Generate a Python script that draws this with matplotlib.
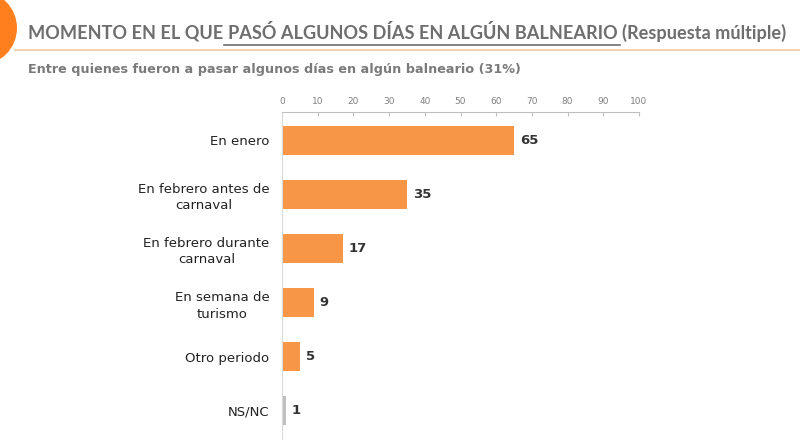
import matplotlib
matplotlib.use("Agg")
import matplotlib.pyplot as plt
from matplotlib.patches import Ellipse
from matplotlib.lines import Line2D

categories = [
    "En enero",
    "En febrero antes de\ncarnaval",
    "En febrero durante\ncarnaval",
    "En semana de\nturismo",
    "Otro periodo",
    "NS/NC",
]
values = [65, 35, 17, 9, 5, 1]
bar_colors = ["#F79646", "#F79646", "#F79646", "#F79646", "#F79646", "#BFBFBF"]
ticks = list(range(0, 101, 10))

title_parts = ["MOMENTO EN EL QUE ", "PASÓ ALGUNOS DÍAS EN ALGÚN BALNEARIO ", "(Respuesta múltiple)"]
subtitle = "Entre quienes fueron a pasar algunos días en algún balneario (31%)"

W, H = 800, 446
fig = plt.figure(figsize=(8, 4.46), dpi=100)
fig.patch.set_facecolor("white")

# decoration: orange circle and header rule
fig.add_artist(Ellipse((-20 / W, 1 - 28 / H), 74 / W, 74 / H,
                       transform=fig.transFigure, color="#FF7F1E", lw=0))
fig.add_artist(Line2D([15 / W, 1.0], [1 - 50 / H, 1 - 50 / H],
                      transform=fig.transFigure, color="#F3C9A0", lw=1.2))

# title in three pieces, middle one underlined; size fitted to span 28..790 px
fig.canvas.draw()
renderer = fig.canvas.get_renderer()
probe = fig.text(0, 0, "".join(title_parts), fontsize=14, fontweight="bold", family="Lato")
tw = probe.get_window_extent(renderer).width
probe.remove()
fs = 14 * 762 / tw

x = 28 / W
ty = 1 - 33 / H
for i, part in enumerate(title_parts):
    t = fig.text(x, ty, part, fontsize=fs, color="#6E6E6E", fontweight="bold",
                 va="center", ha="left", family="Lato")
    bb = t.get_window_extent(renderer)
    x0, x1 = bb.x0 / W, bb.x1 / W
    if i == 1:
        fig.add_artist(Line2D([x0 - 4 / W, x1 - 2 / W], [1 - 45 / H, 1 - 45 / H],
                              transform=fig.transFigure, color="#6E6E6E", lw=1.2))
    x = x1

fig.text(28 / W, 1 - 70 / H, subtitle, fontsize=9.2, color="#7A7A7A",
         fontweight="bold", va="center", ha="left")

ax = fig.add_axes([282 / W, 1 - 439 / H, (639 - 282) / W, (439 - 112) / H])
y = list(range(len(categories)))
ax.barh(y, values, height=0.54, color=bar_colors, edgecolor="none")
ax.set_xlim(0, 100)
ax.set_ylim(len(categories) - 0.48, -0.52)

for yi, v in zip(y, values):
    ax.text(v + 1.6, yi, str(v), va="center", ha="left", fontsize=9.5,
            fontweight="bold", color="#333333")

ax.set_yticks(y)
ax.set_yticklabels(categories, fontsize=9.5, color="#222222",
                   multialignment="center", linespacing=1.35)
ax.tick_params(axis="y", length=0, pad=9)

ax.xaxis.tick_top()
ax.set_xticks(ticks)
ax.set_xticklabels([str(t) for t in ticks], fontsize=6.5, color="#808080")
ax.tick_params(axis="x", direction="in", length=3, color="#BFBFBF", pad=4)

for s in ["right", "bottom"]:
    ax.spines[s].set_visible(False)
ax.spines["top"].set_color("#BFBFBF")
ax.spines["left"].set_color("#D9D9D9")
ax.set_facecolor("none")

fig.savefig("out.png", dpi=100)
